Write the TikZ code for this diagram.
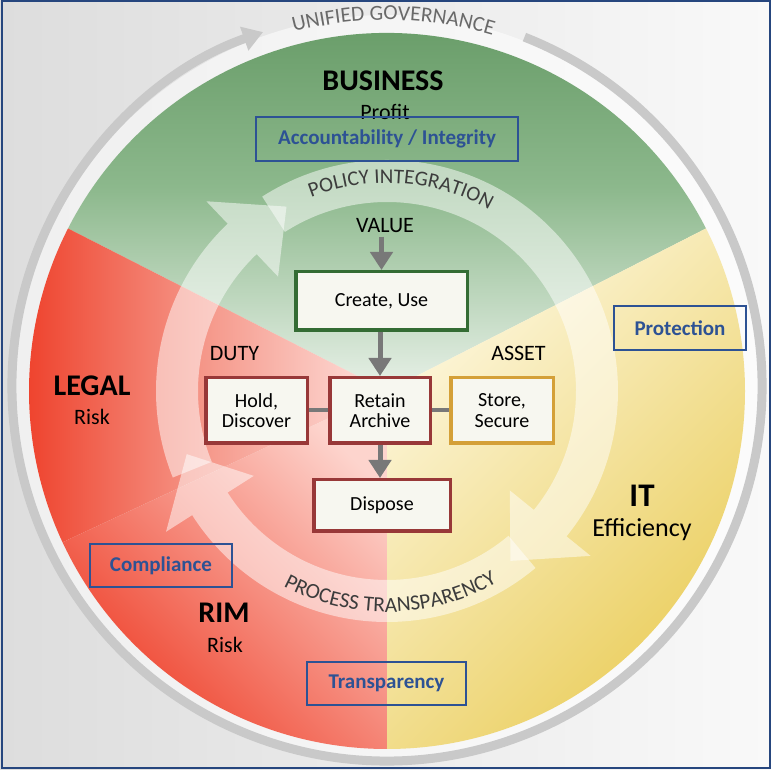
\documentclass[tikz,border=0pt]{standalone}
\usepackage{fontspec}
\setmainfont{Carlito}
\usetikzlibrary{arrows.meta,calc,decorations.text}

\definecolor{bgleft}{RGB}{221,221,221}
\definecolor{bgright}{RGB}{249,249,249}
\definecolor{ringgray}{RGB}{201,201,201}
\definecolor{ringtext}{RGB}{105,105,105}
\definecolor{bizgreen}{RGB}{96,150,96}
\definecolor{bizgreenmid}{RGB}{140,184,140}
\definecolor{bizgreenpale}{RGB}{232,241,232}
\definecolor{legalred}{RGB}{238,62,40}
\definecolor{legalmid}{RGB}{245,150,136}
\definecolor{legalpale}{RGB}{254,226,222}
\definecolor{rimpale}{RGB}{253,212,205}
\definecolor{ityellow}{RGB}{234,205,90}
\definecolor{itpale}{RGB}{253,247,222}
\definecolor{noteblue}{RGB}{45,82,148}
\definecolor{boxfill}{RGB}{247,247,240}
\definecolor{valuegreen}{RGB}{52,108,52}
\definecolor{dutyred}{RGB}{152,56,56}
\definecolor{assetgold}{RGB}{212,160,56}
\definecolor{flowgray}{RGB}{120,120,120}
\definecolor{bandtext}{RGB}{60,60,60}

\tikzset{
  areaname/.style={font=\bfseries\fontsize{30}{32}\selectfont},
  concern/.style={font=\fontsize{22}{24}\selectfont},
  stagelabel/.style={font=\fontsize{22}{24}\selectfont},
  notebox/.style={draw=noteblue, line width=2pt, text=noteblue, inner sep=0pt,
    font=\bfseries\fontsize{21}{24}\selectfont},
  stagebox/.style={draw, line width=3.5pt, fill=boxfill, align=center, inner sep=0pt,
    font=\fontsize{20}{20.5}\selectfont},
  flowarrow/.style={flowgray, line width=5pt, -{Triangle[width=22pt,length=18pt]}},
  flowlink/.style={flowgray, line width=4pt},
  bandfill/.style={fill=white, fill opacity=.5},
}

% one piece of the inner cycle: start angle, tip angle
\newcommand{\bandarrow}[2]{%
  \fill[bandfill] (#1:231) arc[start angle=#1, end angle=#2+15, radius=231]
    -- (#2+15:262) -- (#2:210) -- (#2+15:158) -- (#2+15:189)
    arc[start angle=#2+15, end angle=#1, radius=189] -- cycle;}

\begin{document}
\begin{tikzpicture}[x=1pt,y=1pt]
\useasboundingbox (0,0) rectangle (771,770);
\shade[left color=bgleft, right color=bgright] (0,0) rectangle (771,770);
\coordinate (D) at (387,379);
\coordinate (G) at (387,384);

% outer governance ring
\fill[white, opacity=.55] (G) circle[radius=371];
\draw[ringgray, line width=9pt, -{Triangle[width=24pt,length=20pt]}]
  ($(G)+(68.5:375)$) arc[start angle=68.5, end angle=-250.7, radius=375];
\path[decorate, decoration={text along path, text align=center,
  text={|\fontsize{21.5}{24}\selectfont\color{ringtext}|UNIFIED GOVERNANCE}}]
  ($(G)+(125:366)$) arc[start angle=125, end angle=53, radius=366];

% sectors
\shade[top color=bizgreen, bottom color=bizgreenpale, middle color=bizgreenmid]
  (D) -- ++(27:358) arc[start angle=27, end angle=153, radius=358] -- cycle;
\shade[left color=legalred, right color=legalpale, middle color=legalmid]
  (D) -- ++(153:358) arc[start angle=153, end angle=205, radius=358] -- cycle;
\shade[top color=rimpale, bottom color=legalred, shading angle=-45]
  (D) -- ++(205:358) arc[start angle=205, end angle=270, radius=358] -- cycle;
\shade[top color=itpale, bottom color=ityellow, shading angle=45]
  (D) -- ++(270:358) arc[start angle=270, end angle=387, radius=358] -- cycle;

% inner cycle
\begin{scope}[shift={(D)}]
\bandarrow{202}{118.6}
\bandarrow{122.7}{-54}
\bandarrow{-50}{-162.5}
\path[decorate, decoration={text along path, text align=center,
  text={|\fontsize{21}{24}\selectfont\color{bandtext}|POLICY INTEGRATION}}]
  (126:208) arc[start angle=126, end angle=46, radius=208];
\path[decorate, decoration={text along path, text align=center,
  text={|\fontsize{21.5}{24}\selectfont\color{bandtext}|PROCESS TRANSPARENCY}}]
  (222:221) arc[start angle=222, end angle=320, radius=221];
\end{scope}

% areas
\node[areaname, anchor=base] (business) at (383,679) {BUSINESS};
\node[concern, anchor=base] (profit) at (385,650) {Profit};
\node[areaname, anchor=base] (legal) at (92,374) {LEGAL};
\node[concern, anchor=base] (legalrisk) at (92,345) {Risk};
\node[areaname, anchor=base, font=\bfseries\fontsize{33}{35}\selectfont] (it) at (642,263) {IT};
\node[concern, anchor=base, font=\fontsize{26}{28}\selectfont] (efficiency) at (642,233) {Efficiency};
\node[areaname, anchor=base] (rim) at (224,147) {RIM};
\node[concern, anchor=base] (rimrisk) at (225,117) {Risk};

\node[notebox, minimum width=262pt, minimum height=44pt] (accountability) at (387,631) {Accountability / Integrity};
\node[notebox, minimum width=132pt, minimum height=44pt] (protection) at (680,442) {Protection};
\node[notebox, minimum width=142pt, minimum height=43pt] (compliance) at (161,204.5) {Compliance};
\node[notebox, minimum width=159pt, minimum height=43pt] (transparency) at (386.5,86.5) {Transparency};

% lifecycle
\node[stagelabel, anchor=base] (value) at (385,537) {VALUE};
\node[stagelabel, anchor=base] (duty) at (234.5,409) {DUTY};
\node[stagelabel, anchor=base] (asset) at (518.5,409) {ASSET};
\node[stagebox, draw=valuegreen, minimum width=171.5pt, minimum height=58.5pt] (create) at (381.5,469) {Create, Use};
\node[stagebox, draw=dutyred, minimum width=101.5pt, minimum height=65.5pt] (hold) at (256.5,359.5) {Hold,\\Discover};
\node[stagebox, draw=dutyred, minimum width=100.5pt, minimum height=65.5pt] (retain) at (380,359.5) {Retain\\Archive};
\node[stagebox, draw=assetgold, minimum width=102.5pt, minimum height=65.5pt] (store) at (502,359.5) {Store,\\Secure};
\node[stagebox, draw=dutyred, minimum width=136.5pt, minimum height=51.5pt] (dispose) at (382,264.5) {Dispose};

\draw[flowarrow] (value.south -| create.north) -- (create.north);
\draw[flowarrow] (create.south -| retain.north) -- (retain.north);
\draw[flowarrow] (retain.south) -- (retain.south |- dispose.north);
\draw[flowlink] (hold) -- (retain);
\draw[flowlink] (retain) -- (store);

\draw[noteblue!85!black, line width=2pt] (1.5,1.5) rectangle (769.5,768.5);
\end{tikzpicture}
\end{document}
